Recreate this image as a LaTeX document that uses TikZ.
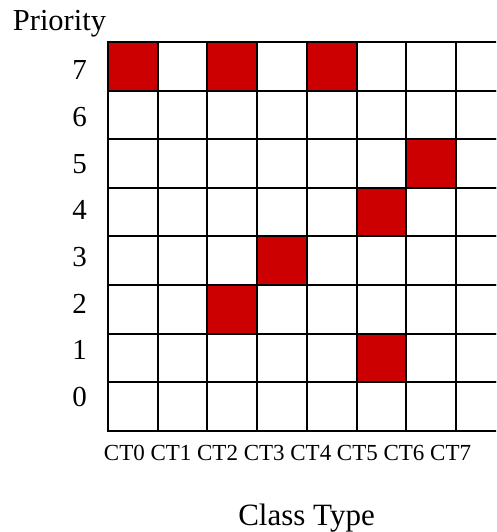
\documentclass[tikz,border=0pt]{standalone}
\usepackage{fontspec}
\setmainfont{Liberation Serif}
\usetikzlibrary{positioning}
\definecolor{SlotRed}{RGB}{204,0,0}

\begin{document}
\begin{tikzpicture}[x=1pt, y=-1pt,
    cell/.style={draw=black, line width=2pt, minimum width=49.7pt, minimum height=48.6pt, inner sep=0pt},
    used/.style={cell, fill=SlotRed},
    axislabel/.style={anchor=base, font=\fontsize{31}{31}\selectfont},
    ticklabel/.style={anchor=base, font=\fontsize{29}{29}\selectfont},
    ctlabel/.style={anchor=base, font=\fontsize{23}{23}\selectfont}]
    \useasboundingbox (0,0) rectangle (496,532);
    \clip (0,0) rectangle (496,532);

    % --- 网格：列为 CT，行为优先级 ---
    \foreach \c in {0,...,7} {
        \foreach \p in {0,...,7} {
            \node[cell] (c\c p\p) at ({132.85+49.7*\c}, {66.3+48.6*(7-\p)}) {};
        }
    }

    % --- 已占用的格子 ---
    \foreach \c/\p in {0/7, 2/7, 4/7, 6/5, 5/4, 3/3, 2/2, 5/1} {
        \node[used] (u\c p\p) at (c\c p\p.center) {};
    }

    % 纵轴
    \node[axislabel, font=\fontsize{30.5}{30.5}\selectfont] (prio) at (59.5,30.5) {Priority};
    \foreach \p in {0,...,7} {
        \node[ticklabel] (tick\p) at (79.5, {80+46.6*(7-\p)}) {\p};
    }

    % 横轴
    \foreach \c in {0,...,7} {
        \node[ctlabel] (ct\c) at ({124.4+46.6*\c}, 460) {CT\c};
    }
    \node[axislabel] (ctype) at (306.5,525) {Class Type};
\end{tikzpicture}
\end{document}
